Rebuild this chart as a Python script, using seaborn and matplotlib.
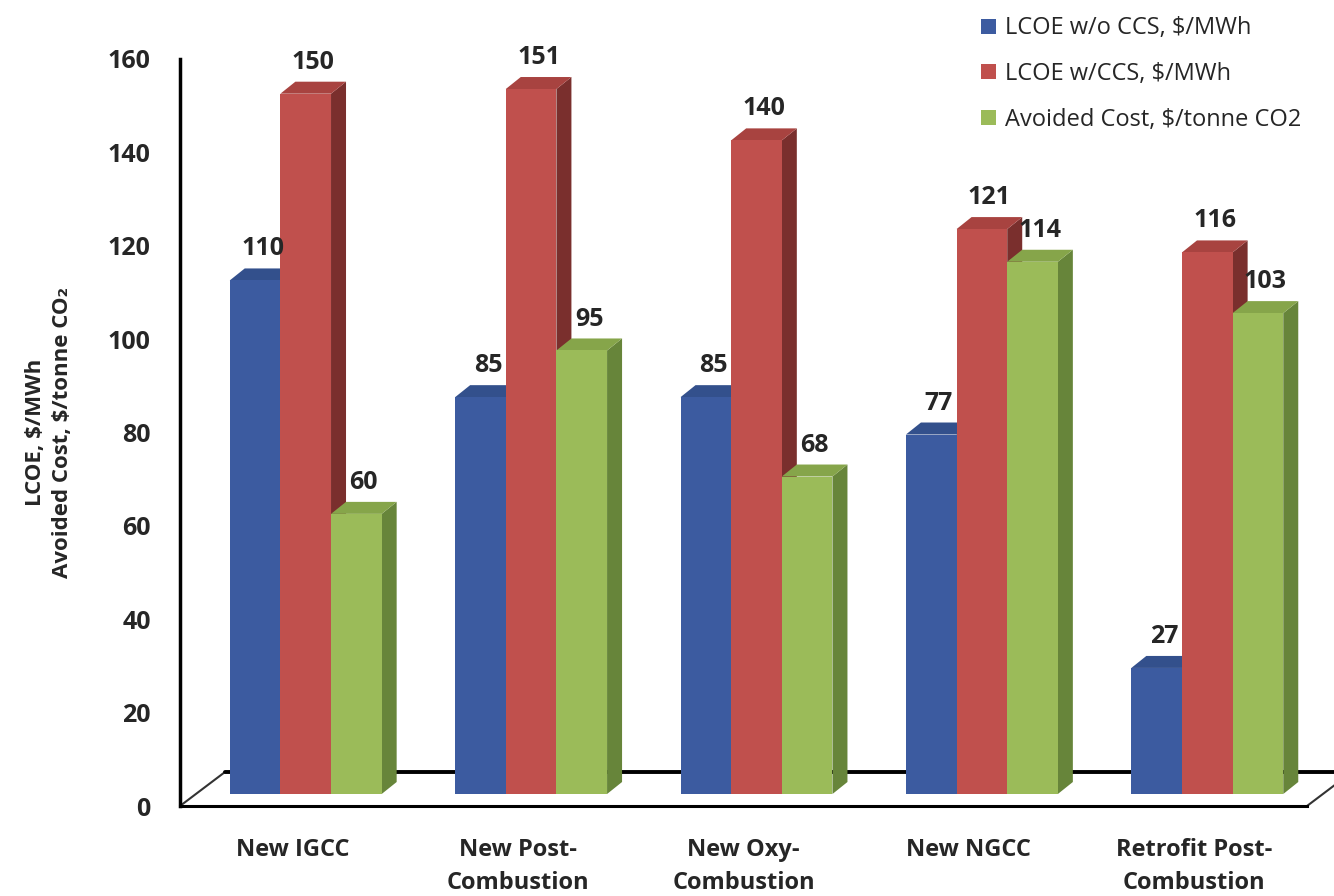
import numpy as np
import pandas as pd
import matplotlib
matplotlib.use("Agg")
import matplotlib.pyplot as plt
from matplotlib.patches import Polygon
from matplotlib.lines import Line2D
import seaborn as sns

categories = ["New IGCC", "New Post-\nCombustion", "New Oxy-\nCombustion",
              "New NGCC", "Retrofit Post-\nCombustion"]
series_names = ["LCOE w/o CCS, $/MWh", "LCOE w/CCS, $/MWh",
                "Avoided Cost, $/tonne CO2"]
lcoe_no_ccs = [110, 85, 85, 77, 27]
lcoe_ccs = [150, 151, 140, 121, 116]
avoided_cost = [60, 95, 68, 114, 103]
y_ticks = [0, 20, 40, 60, 80, 100, 120, 140, 160]

front_colors = ["#3c5ba0", "#c0504d", "#9bbb59"]
top_colors = ["#33508c", "#a84340", "#86a54a"]
side_colors = ["#2a4274", "#7a2f2d", "#67853a"]

sns.set_style("white")
plt.rcParams["font.family"] = ["Open Sans", "DejaVu Sans"]

rows = []
for name, vals in zip(series_names, [lcoe_no_ccs, lcoe_ccs, avoided_cost]):
    for cat, v in zip(categories, vals):
        rows.append({"category": cat, "series": name, "value": v})
df = pd.DataFrame(rows)

W, H = 1334, 896
fig = plt.figure(figsize=(W / 100, H / 100), dpi=100)
ax_l, ax_r, ax_t, ax_b = 180, 1307, 59, 806
ax = fig.add_axes([ax_l / W, 1 - ax_b / H, (ax_r - ax_l) / W, (ax_b - ax_t) / H])

sns.barplot(data=df, x="category", y="value", hue="series", palette=front_colors,
            width=0.674, saturation=1, errorbar=None, legend=False, ax=ax)

ax.set_xlim(-0.5, len(categories) - 0.5)
ax.set_ylim(0, 160)

# pixel -> data scale
sx = (len(categories)) / (ax_r - ax_l)
sy = 160 / (ax_b - ax_t)

# 3d look: bar depth, projection shift, floor depth (pixels)
bar_dx, bar_dy = 15 * sx, 12 * sy
shift_x, shift_y = 13 * sx, 12 * sy
floor_dx, floor_dy = 45 * sx, 34 * sy

bars = []
for i, cont in enumerate(ax.containers):
    for b in cont:
        bars.append((b, i))
bars.sort(key=lambda t: t[0].get_x())

for k, (b, i) in enumerate(bars):
    b.set_x(b.get_x() + shift_x)
    b.set_y(b.get_y() + shift_y)
    b.set_edgecolor("none")
    x0, w = b.get_x(), b.get_width()
    y0, h = b.get_y(), b.get_height()
    x1, y1 = x0 + w, y0 + h
    z = 3 + k * 0.1
    b.set_zorder(z + 0.05)
    side = Polygon([(x1, y0), (x1 + bar_dx, y0 + bar_dy), (x1 + bar_dx, y1 + bar_dy), (x1, y1)],
                   closed=True, facecolor=side_colors[i], edgecolor="none", zorder=z)
    top = Polygon([(x0, y1), (x0 + bar_dx, y1 + bar_dy), (x1 + bar_dx, y1 + bar_dy), (x1, y1)],
                  closed=True, facecolor=top_colors[i], edgecolor="none", zorder=z)
    ax.add_patch(side)
    ax.add_patch(top)
    ax.annotate(f"{h:.0f}", (x0 + w / 2 + bar_dx / 2, y1 + bar_dy), xytext=(0, 5),
                textcoords="offset points", ha="center", va="bottom",
                fontsize=18, fontweight="bold", zorder=10, annotation_clip=False)

# floor
xa, xb = -0.5, len(categories) - 0.5
ax.add_line(Line2D([xa, xa + floor_dx], [0, floor_dy], color="#333333", lw=1.5,
                   clip_on=False, zorder=1))
ax.add_line(Line2D([xa + floor_dx, xb + floor_dx + 1], [floor_dy, floor_dy], color="black",
                   lw=2.8, clip_on=False, zorder=1))
ax.add_line(Line2D([xb, xb + floor_dx], [0, floor_dy], color="#333333", lw=1.5,
                   clip_on=False, zorder=1))

for s in ["top", "right"]:
    ax.spines[s].set_visible(False)
ax.spines["left"].set_color("black")
ax.spines["left"].set_linewidth(2.5)
ax.spines["bottom"].set_color("black")
ax.spines["bottom"].set_linewidth(2.2)

ax.set_yticks(y_ticks)
ax.set_yticklabels([str(t) for t in y_ticks])
ax.tick_params(axis="y", direction="out", length=7, width=1.5, color="black",
               pad=14, labelsize=18)
for lab in ax.get_yticklabels():
    lab.set_fontweight("bold")

ax.set_xticks(range(len(categories)))
ax.set_xticklabels(categories, fontsize=17, fontweight="bold", linespacing=1.5)
ax.tick_params(axis="x", length=0, pad=23)
ax.set_xticks(np.arange(0.5, len(categories) - 0.5, 1), minor=True)
ax.tick_params(axis="x", which="minor", direction="out", length=5, width=1, color="#888888")
ax.set_xlabel("")

ax.set_ylabel("LCOE, $/MWh\nAvoided Cost, $/tonne CO₂", fontsize=16,
              fontweight="bold", linespacing=1.35)
ax.yaxis.set_label_coords(-0.095, 0.5)

handles = [plt.Rectangle((0, 0), 1, 1, facecolor=c, edgecolor="none") for c in front_colors]
fig.legend(handles, series_names, loc="upper left", bbox_to_anchor=(972 / W, 1 - 7 / H),
           frameon=False, fontsize=17, handlelength=0.6, handleheight=0.6,
           handletextpad=0.4, labelspacing=0.92, borderaxespad=0)

fig.savefig("out.png", dpi=100)
